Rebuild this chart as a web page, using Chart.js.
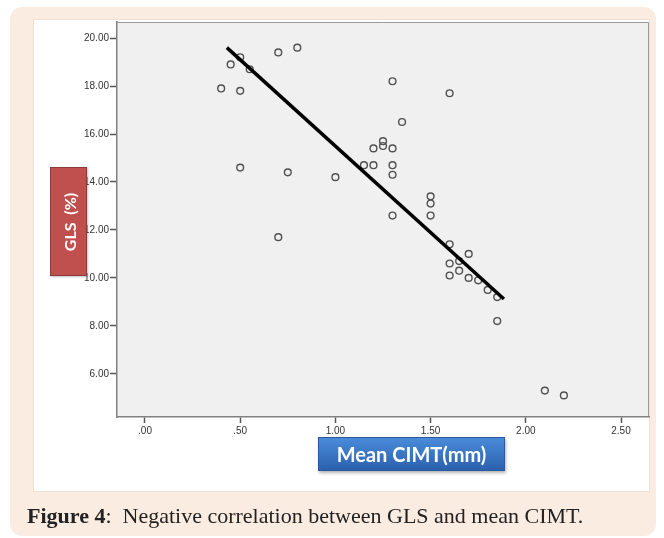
<!DOCTYPE html>
<html>
<head>
<meta charset="utf-8">
<script src="https://cdn.jsdelivr.net/npm/chart.js@4"></script>
<style>
  html, body { margin:0; padding:0; background:#ffffff; }
  #wrap { position:relative; width:664px; height:538px; overflow:hidden; }
  #outer { position:absolute; left:10px; top:7px; width:646px; height:529px; background:#fbece2; border-radius:12px; z-index:0; }
  #inner { position:absolute; left:33px; top:19px; width:617px; height:473px; background:#ffffff; border:1px solid #f0e0d5; box-sizing:border-box; z-index:0; }
  #c { position:absolute; left:0; top:0; z-index:1; }
  #ylab { position:absolute; left:50px; top:167px; width:37px; height:109px; background:#c0504d; border:1px solid #8e3a38; box-sizing:border-box; z-index:2; box-shadow:1px 1px 2px rgba(0,0,0,0.25); }
  #ylab span { position:absolute; left:50%; top:50%; transform:translate(-50%,-50%) rotate(-90deg); color:#ffffff; font:bold 16px Lato, "Liberation Sans", sans-serif; white-space:pre; }
  #xlab { position:absolute; left:318px; top:437px; width:187px; height:34px; background:linear-gradient(#4a8bd9, #2b61ad); border:1px solid #2a5a9c; box-sizing:border-box; z-index:2; box-shadow:1px 2px 3px rgba(0,0,0,0.3); color:#ffffff; font:bold 20px Lato, "Liberation Sans", sans-serif; text-align:center; line-height:32px; }
  #cap { position:absolute; left:27px; top:503px; z-index:2; font:22px "Liberation Serif", serif; color:#222; white-space:pre; }
</style>
</head>
<body>
<div id="wrap">
  <div id="outer"></div>
  <div id="inner"></div>
  <canvas id="c" width="664" height="538"></canvas>
  <div id="ylab"><span>GLS  (%)</span></div>
  <div id="xlab">Mean CIMT(mm)</div>
  <div id="cap"><b>Figure 4</b>:  Negative correlation between GLS and mean CIMT.</div>
</div>
<script>
const cimt = [0.40,0.45,0.50,0.55,0.50,0.70,0.80,0.50,0.75,1.00,0.70,1.30,1.60,1.35,1.25,1.25,1.20,1.30,1.15,1.20,1.30,1.30,1.50,1.50,1.50,1.30,1.60,1.70,1.60,1.65,1.65,1.60,1.70,1.75,1.80,1.85,1.85,2.10,2.20];
const gls  = [17.9,18.9,19.2,18.7,17.8,19.4,19.6,14.6,14.4,14.2,11.7,18.2,17.7,16.5,15.7,15.5,15.4,15.4,14.7,14.7,14.7,14.3,13.4,13.1,12.6,12.6,11.4,11.0,10.6,10.7,10.3,10.1,10.0,9.9,9.5,9.2,8.2,5.3,5.1];
const fitX = [0.43, 1.885];
const fitY = [19.6, 9.12];
const xTicks = [0, 0.5, 1.0, 1.5, 2.0, 2.5];
const xTickLabels = ['.00', '.50', '1.00', '1.50', '2.00', '2.50'];
const yTicks = [6, 8, 10, 12, 14, 16, 18, 20];
const yTickLabels = ['6.00', '8.00', '10.00', '12.00', '14.00', '16.00', '18.00', '20.00'];

const points = cimt.map((x, i) => ({x: x, y: gls[i]}));
const fit = fitX.map((x, i) => ({x: x, y: fitY[i]}));

const plotBg = {
  id: 'plotBg',
  beforeDraw(chart) {
    const {ctx, chartArea: a} = chart;
    ctx.save();
    ctx.fillStyle = '#f0f0f0';
    ctx.fillRect(a.left, a.top, a.right - a.left, a.bottom - a.top);
    ctx.strokeStyle = '#9a9a9a';
    ctx.lineWidth = 1;
    ctx.beginPath();
    ctx.moveTo(a.left, a.top + 0.5);
    ctx.lineTo(a.right - 0.5, a.top + 0.5);
    ctx.lineTo(a.right - 0.5, a.bottom);
    ctx.stroke();
    ctx.restore();
  }
};

new Chart(document.getElementById('c'), {
  type: 'scatter',
  data: {
    datasets: [
      { type: 'line', data: fit, borderColor: '#000000', borderWidth: 3.5, pointRadius: 0, fill: false, order: 0, showLine: true },
      { data: points, pointStyle: 'circle', pointRadius: 3.4, pointBorderWidth: 1.4, pointBorderColor: '#505050', pointBackgroundColor: 'rgba(0,0,0,0)', order: 1 }
    ]
  },
  options: {
    responsive: false,
    animation: false,
    devicePixelRatio: 1,
    layout: { padding: { left: 0, top: 22, right: 15, bottom: 0 } },
    plugins: { legend: { display: false }, tooltip: { enabled: false } },
    scales: {
      x: {
        type: 'linear', min: -0.147, max: 2.647,
        afterBuildTicks: s => { s.ticks = xTicks.map(v => ({value: v})); },
        afterFit: s => { s.height = 121; },
        ticks: { callback: (v) => xTickLabels[xTicks.indexOf(v)], color: '#333', font: { family: 'Liberation Sans', size: 10 }, padding: 2, maxRotation: 0, autoSkip: false },
        grid: { drawOnChartArea: false, drawTicks: true, tickLength: 6, tickColor: '#555', tickWidth: 1.5 },
        border: { color: '#808080', width: 1.5 }
      },
      y: {
        type: 'linear', min: 4.2, max: 20.67,
        afterBuildTicks: s => { s.ticks = yTicks.map(v => ({value: v})); },
        afterFit: s => { s.width = 117; },
        ticks: { callback: (v) => yTickLabels[yTicks.indexOf(v)], color: '#333', font: { family: 'Liberation Sans', size: 10 }, padding: 1, autoSkip: false },
        grid: { drawOnChartArea: false, drawTicks: true, tickLength: 7, tickColor: '#555', tickWidth: 1.5 },
        border: { color: '#808080', width: 1.5 }
      }
    }
  },
  plugins: [plotBg]
});
</script>
</body>
</html>
